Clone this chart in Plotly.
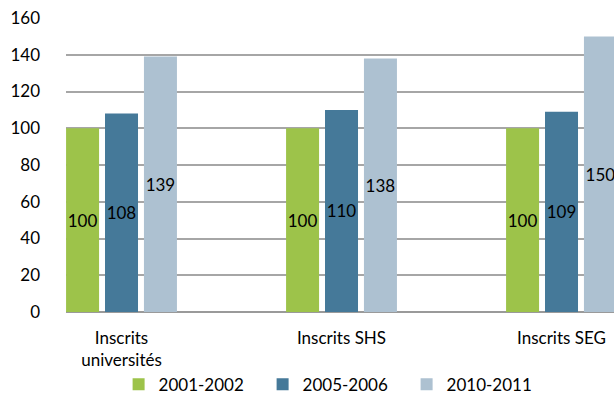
import plotly.graph_objects as go

categories = ["Inscrits<br>universités", "Inscrits SHS", "Inscrits SEG"]
series_names = ["2001-2002", "2005-2006", "2010-2011"]
values_2001 = [100, 100, 100]
values_2005 = [108, 110, 109]
values_2010 = [139, 138, 150]
y_ticks = [0, 20, 40, 60, 80, 100, 120, 140, 160]

colors = ["#9DC34A", "#457999", "#ADC1D1"]
FONT = "Lato, 'Open Sans', sans-serif"

positions = list(range(len(categories)))
bar_w = 0.15
bar_gap = 0.027
offsets = [-1.5 * bar_w - bar_gap + i * (bar_w + bar_gap) for i in range(3)]

fig = go.Figure()
for name, vals, col, off in zip(series_names, [values_2001, values_2005, values_2010], colors, offsets):
    fig.add_trace(go.Bar(
        x=positions, y=vals, name=name,
        width=bar_w, offset=off,
        marker=dict(color=col, line=dict(width=0)),
        text=[str(v) for v in vals],
        textposition="inside", insidetextanchor="middle",
        textangle=0, constraintext="none",
        insidetextfont=dict(color="black", size=17, family=FONT),
        hoverinfo="skip",
    ))

fig.update_layout(
    width=614, height=394,
    margin=dict(l=66, r=0, t=18, b=82, autoexpand=False),
    paper_bgcolor="white", plot_bgcolor="white",
    barmode="overlay",
    font=dict(family=FONT, size=17, color="black"),
    showlegend=True,
    legend=dict(orientation="h", x=0.096, y=-0.247, xanchor="left", yanchor="middle",
                font=dict(size=17, family=FONT), entrywidth=99, entrywidthmode="pixels",
                traceorder="normal"),
    xaxis=dict(
        range=[-0.2523, 2.2386], automargin=False,
        tickmode="array", tickvals=positions, ticktext=categories,
        showgrid=False, zeroline=False, showline=False,
        ticks="", ticklabelstandoff=14, tickfont=dict(size=17, family=FONT),
    ),
    yaxis=dict(
        range=[0, 160], automargin=False,
        tickmode="array", tickvals=y_ticks,
        showgrid=True, gridcolor="#A6A6A6", gridwidth=1.5,
        zeroline=True, zerolinecolor="#9A9A9A", zerolinewidth=2,
        showline=False, ticks="", ticklabelstandoff=25,
        tickfont=dict(size=17, family=FONT),
    ),
)

fig.write_html("out.html")
